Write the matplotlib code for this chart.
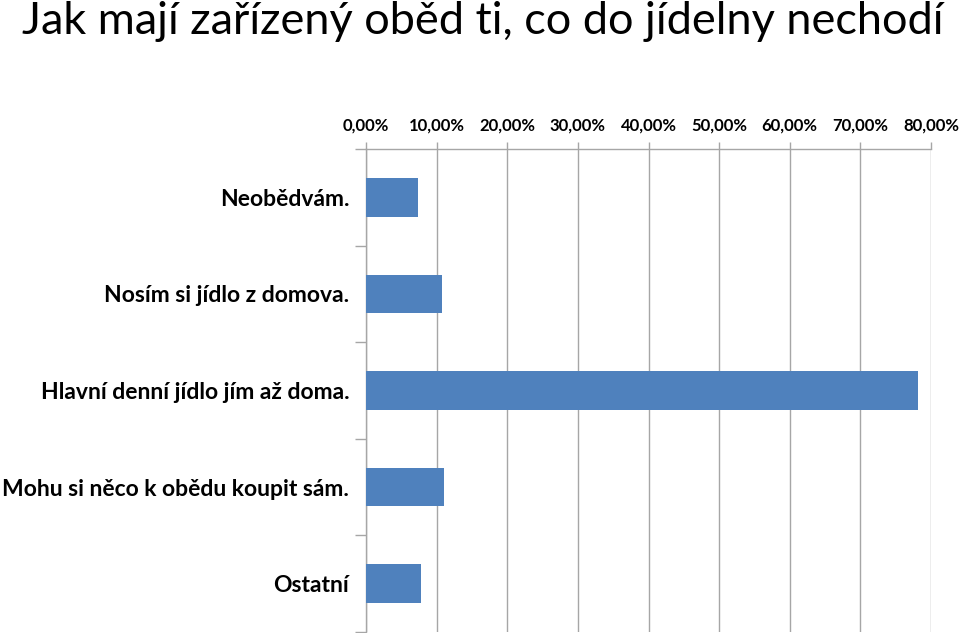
import numpy as np
import matplotlib
matplotlib.use("Agg")
import matplotlib.pyplot as plt
from matplotlib.ticker import FixedLocator, FuncFormatter

title = "Jak mají zařízený oběd ti, co do jídelny nechodí"
categories = [
    "Neobědvám.",
    "Nosím si jídlo z domova.",
    "Hlavní denní jídlo jím až doma.",
    "Mohu si něco k obědu koupit sám.",
    "Ostatní",
]
shares = [7.4, 10.7, 78.2, 11.1, 7.8]
x_ticks = [0, 10, 20, 30, 40, 50, 60, 70, 80]

BAR_BLUE = "#4F81BD"
GRID_GRAY = "#A6A6A6"

plt.rcParams["font.family"] = ["Lato", "DejaVu Sans"]

fig = plt.figure(figsize=(9.6, 6.33), dpi=100)
ax = fig.add_axes([366 / 960, 1 / 633, (931 - 366) / 960, (632 - 149) / 633])

y = np.arange(len(categories))
ax.barh(y, shares, height=0.4, color=BAR_BLUE, zorder=3)

ax.set_xlim(0, 80)
ax.set_ylim(len(categories) - 0.5, -0.5)

# x axis on top
ax.xaxis.set_ticks_position("top")
ax.set_xticks(x_ticks)
ax.xaxis.set_major_formatter(FuncFormatter(lambda v, p: f"{v:.2f}%".replace(".", ",")))
ax.tick_params(axis="x", which="major", direction="out", length=5, width=1,
               color=GRID_GRAY, labelsize=12, pad=6)
for lbl in ax.get_xticklabels():
    lbl.set_fontweight("bold")

# category labels at centres, tick marks at the boundaries
ax.set_yticks(y)
ax.set_yticklabels(categories, fontsize=16.5, fontweight="bold")
ax.yaxis.set_minor_locator(FixedLocator(np.arange(-0.5, len(categories), 1.0)))
ax.tick_params(axis="y", which="major", length=0, pad=12)
ax.tick_params(axis="y", which="minor", direction="out", length=8, width=1,
               color=GRID_GRAY)

ax.grid(axis="x", color=GRID_GRAY, linewidth=1, zorder=0)
ax.set_axisbelow(True)

for side in ["right", "bottom"]:
    ax.spines[side].set_visible(False)
for side in ["left", "top"]:
    ax.spines[side].set_color(GRID_GRAY)
    ax.spines[side].set_linewidth(1)

fig.text(22 / 960, 1 - 1 / 633, title, fontsize=32.5, ha="left", va="top")

fig.savefig("out.png", dpi=100)
